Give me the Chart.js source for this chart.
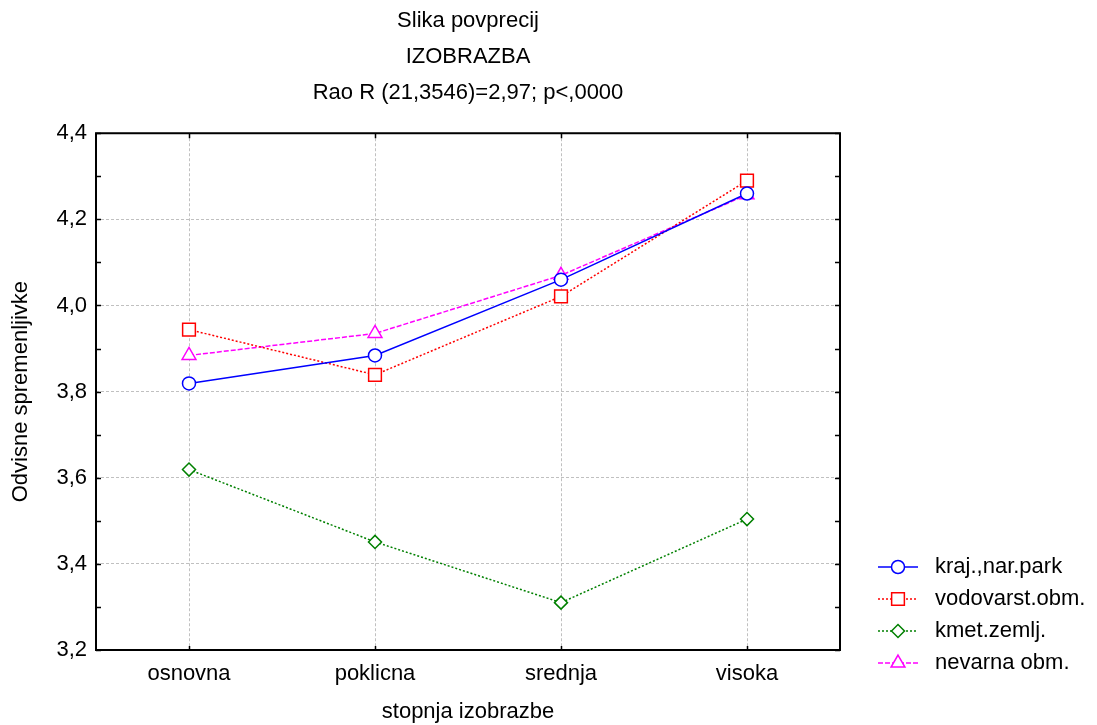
<!DOCTYPE html>
<html>
<head>
<meta charset="utf-8">
<script src="https://cdn.jsdelivr.net/npm/chart.js@4.4.1/dist/chart.umd.min.js"></script>
<style>
  html, body { margin: 0; padding: 0; background: #fff; }
  #wrap { width: 1097px; height: 725px; }
</style>
</head>
<body>
<div id="wrap"><canvas id="myChart"></canvas></div>
<script>
// podatki
const categories = ['osnovna', 'poklicna', 'srednja', 'visoka'];
const seriesNames = ['kraj.,nar.park', 'vodovarst.obm.', 'kmet.zemlj.', 'nevarna obm.'];
const krajNarPark = [3.819, 3.884, 4.060, 4.260];
const vodovarstObm = [3.944, 3.839, 4.021, 4.290];
const kmetZemlj = [3.619, 3.451, 3.310, 3.504];
const nevarnaObm = [3.884, 3.935, 4.070, 4.257];
const yTicks = [3.2, 3.4, 3.6, 3.8, 4.0, 4.2, 4.4];
const titleLines = ['Slika povprecij', 'IZOBRAZBA', 'Rao R (21,3546)=2,97; p<,0000'];

const FONT = 'Liberation Sans, Arial, sans-serif';
const FS = 22;

let ctx = document.getElementById('myChart');

// okvir, notranje oznake in legenda
const framePlugin = {
  id: 'frame',
  afterDraw(chart) {
    const c = chart.ctx;
    const a = chart.chartArea;
    const x = chart.scales.x, y = chart.scales.y;
    c.save();
    c.strokeStyle = '#000';
    c.lineWidth = 2;
    c.strokeRect(a.left, a.top, a.right - a.left, a.bottom - a.top);
    c.lineWidth = 1.5;
    // y oznake na vsakih 0.1
    for (let v = 3.2; v <= 4.401; v += 0.1) {
      const py = Math.round(y.getPixelForValue(v)) + 0.5;
      c.beginPath();
      c.moveTo(a.left, py); c.lineTo(a.left + 5, py);
      c.moveTo(a.right, py); c.lineTo(a.right - 5, py);
      c.stroke();
    }
    for (let i = 0; i < categories.length; i++) {
      const px = Math.round(x.getPixelForValue(i)) + 0.5;
      c.beginPath();
      c.moveTo(px, a.top); c.lineTo(px, a.top + 5);
      c.moveTo(px, a.bottom); c.lineTo(px, a.bottom - 4);
      c.stroke();
    }
    // legenda
    const lx = 878, ly = 567, gap = 32;
    chart.data.datasets.forEach((ds, i) => {
      const yy = ly + i * gap;
      c.strokeStyle = ds.borderColor;
      c.lineWidth = ds.borderWidth;
      c.setLineDash(ds.borderDash || []);
      c.beginPath(); c.moveTo(lx, yy); c.lineTo(lx + 40, yy); c.stroke();
      c.setLineDash([]);
      c.fillStyle = '#fff';
      c.strokeStyle = ds.borderColor;
      c.lineWidth = ds.pointBorderWidth;
      Chart.helpers.drawPoint(c, {
        pointStyle: ds.pointStyle, radius: ds.pointRadius, borderWidth: ds.pointBorderWidth
      }, lx + 20, yy);
      c.fillStyle = '#000';
      c.font = FS + 'px ' + FONT;
      c.textBaseline = 'middle';
      c.fillText(ds.label, lx + 57, yy);
    });
    c.restore();
  }
};

function makeDs(label, data, color, dash, style, r) {
  return {
    label: label,
    data: data,
    borderColor: color,
    borderWidth: 1.5,
    borderDash: dash,
    pointStyle: style,
    pointRadius: r,
    pointHoverRadius: r,
    pointBorderWidth: 1.5,
    pointBackgroundColor: '#fff',
    pointBorderColor: color,
    fill: false,
    tension: 0
  };
}

let chart_cfg = {
  type: 'line',
  data: {
    labels: categories,
    datasets: [
      makeDs(seriesNames[0], krajNarPark, '#0000ff', [], 'circle', 6.5),
      makeDs(seriesNames[1], vodovarstObm, '#ff0000', [2, 2], 'rect', 9),
      makeDs(seriesNames[2], kmetZemlj, '#008000', [2, 2], 'rectRot', 6.5),
      makeDs(seriesNames[3], nevarnaObm, '#ff00ff', [5, 2], 'triangle', 8)
    ]
  },
  options: {
    responsive: true,
    maintainAspectRatio: false,
    animation: false,
    layout: { padding: { left: 0, right: 257, top: 0, bottom: 0 } },
    plugins: {
      legend: { display: false },
      tooltip: { enabled: false },
      title: {
        display: true,
        fullSize: false,
        text: titleLines,
        color: '#000',
        font: { family: FONT, size: 22, weight: 'normal', lineHeight: 1.64 },
        padding: { top: 3, bottom: 22 }
      }
    },
    scales: {
      x: {
        type: 'category',
        offset: true,
        grid: { offset: false, color: '#c0c0c0', lineWidth: 1, drawTicks: false },
        border: { display: false, dash: [3, 2] },
        ticks: { color: '#000', font: { family: FONT, size: FS }, padding: 11, maxRotation: 0 },
        title: { display: true, text: 'stopnja izobrazbe', color: '#000', font: { family: FONT, size: FS }, padding: { top: 4, bottom: 0 } },
        afterFit: s => { s.height = 75; }
      },
      y: {
        min: 3.2,
        max: 4.4,
        afterBuildTicks: s => { s.ticks = yTicks.map(v => ({ value: v })); },
        grid: { color: '#c0c0c0', lineWidth: 1, drawTicks: false },
        border: { display: false, dash: [3, 2] },
        ticks: {
          color: '#000',
          font: { family: FONT, size: FS },
          padding: 9,
          callback: v => Number(v).toFixed(1).replace('.', ',')
        },
        title: { display: true, text: 'Odvisne spremenljivke', color: '#000', font: { family: FONT, size: FS }, padding: { top: 8, bottom: 6 } },
        afterFit: s => { s.width = 96; }
      }
    }
  },
  plugins: [framePlugin]
};

const myChart = new Chart(ctx, chart_cfg);
</script>
</body>
</html>
